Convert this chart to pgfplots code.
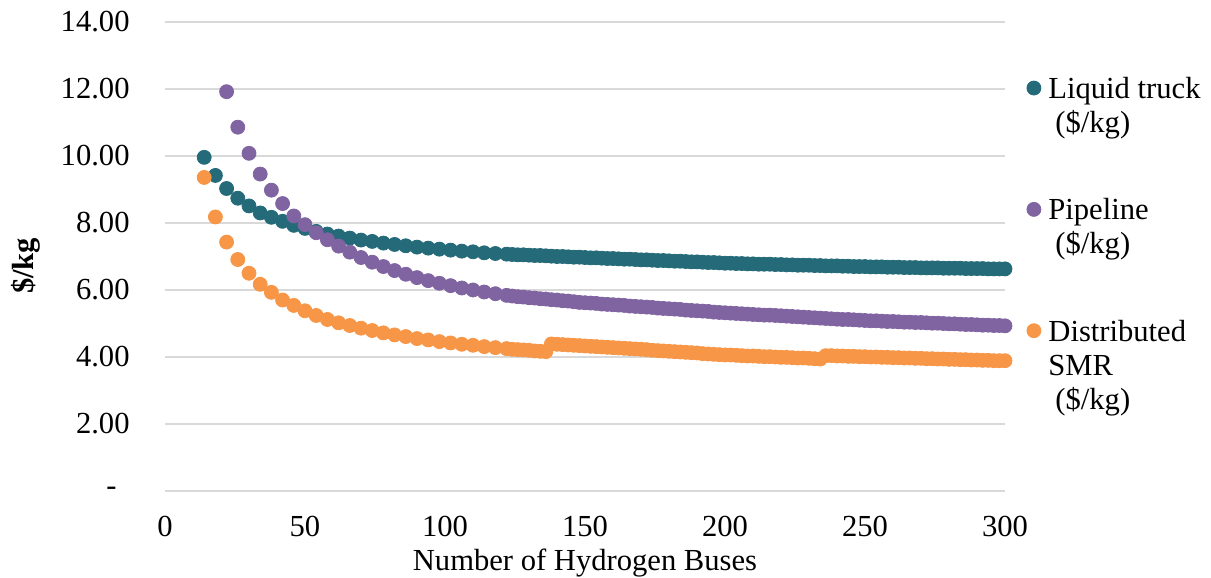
\documentclass[border=0pt]{standalone}
\usepackage{fontspec}
\setmainfont{Liberation Serif}
\usepackage{pgfplots}
\pgfplotsset{compat=1.18}
\definecolor{cTeal}{HTML}{246A79}
\definecolor{cPurple}{HTML}{8064A2}
\definecolor{cOrange}{HTML}{F79646}
\definecolor{cGrid}{HTML}{D9D9D9}
\newcommand{\lgd}[1]{\vtop{\baselineskip=17pt\lineskiplimit=-10pt #1}}
\begin{document}
\fontsize{15.3pt}{17pt}\selectfont
\begin{tikzpicture}[font=\fontsize{15.3pt}{17pt}\selectfont]
\begin{axis}[
 scale only axis, width=420pt, height=234.5pt,
 at={(0,0)}, anchor=south west,
 xmin=0,xmax=300,ymin=0,ymax=14,
 axis line style={draw=none},
 major tick length=0pt,
 /pgf/number format/assume math mode=true,
 xtick={0,50,...,300},
 xticklabels={0,50,100,150,200,250,300},
 ytick={0,2,...,14},
 yticklabels={-\hspace*{6.5pt},2.00,4.00,6.00,8.00,10.00,12.00,14.00},
 ymajorgrids, grid style={cGrid, line width=0.75pt},
 yticklabel style={anchor=east, inner sep=0pt, xshift=-17.5pt},
 xticklabel style={anchor=north, inner sep=0pt, yshift=-12.25pt},
 xlabel={Number of Hydrogen Buses},
 xlabel style={at={(axis description cs:0.5,0)}, anchor=base, inner sep=0pt, yshift=-39.5pt},
 ylabel={\textbf{\$/kg}},
 ylabel style={at={(axis description cs:-0.1476,0.48)}, anchor=south, inner sep=0pt},
 clip=false,
 legend style={at={(axis description cs:1.0256,0.8912)}, anchor=north west, draw=none, fill=none,
   cells={anchor=base west}, row sep=43.75pt, inner sep=0pt,
   /tikz/every odd column/.append style={column sep=1.75pt}},
 legend image code/.code={\draw[#1] plot coordinates {(3.5pt,5.3pt)};},
 every axis plot/.append style={only marks, mark=*, mark size=3.5pt},
]
\addplot[cTeal, mark options={fill=cTeal, draw=cTeal}] coordinates {
(14,9.96)(18,9.42)(22,9.03)(26,8.74)(30,8.51)(34,8.30)(38,8.17)(42,8.05)(46,7.93)(50,7.84)
(54,7.75)(58,7.67)(62,7.61)(66,7.55)(70,7.49)(74,7.45)(78,7.40)(82,7.36)(86,7.32)(90,7.28)
(94,7.25)(98,7.22)(102,7.19)(106,7.16)(110,7.14)(114,7.11)(118,7.09)(122,7.07)
(124,7.06)(126,7.05)(128,7.05)(130,7.04)(132,7.03)(134,7.03)(136,7.02)(138,7.01)(140,7.00)(142,7.00)
(144,6.99)(146,6.98)(148,6.98)(150,6.97)(152,6.96)(154,6.96)(156,6.95)(158,6.94)(160,6.94)(162,6.93)
(164,6.92)(166,6.92)(168,6.91)(170,6.90)(172,6.90)(174,6.89)(176,6.88)(178,6.88)(180,6.87)(182,6.86)
(184,6.86)(186,6.85)(188,6.84)(190,6.84)(192,6.83)(194,6.82)(196,6.82)(198,6.81)(200,6.80)(202,6.80)
(204,6.79)(206,6.79)(208,6.78)(210,6.78)(212,6.77)(214,6.77)(216,6.77)(218,6.76)(220,6.76)(222,6.75)
(224,6.75)(226,6.74)(228,6.74)(230,6.74)(232,6.73)(234,6.73)(236,6.72)(238,6.72)(240,6.72)(242,6.71)
(244,6.71)(246,6.70)(248,6.70)(250,6.70)(252,6.69)(254,6.69)(256,6.69)(258,6.68)(260,6.68)(262,6.68)
(264,6.67)(266,6.67)(268,6.67)(270,6.66)(272,6.66)(274,6.66)(276,6.66)(278,6.65)(280,6.65)(282,6.65)
(284,6.65)(286,6.64)(288,6.64)(290,6.64)(292,6.64)(294,6.63)(296,6.63)(298,6.63)(300,6.63)
};
\addlegendentry{\lgd{\hbox{Liquid truck}\hbox{\hspace*{3.5pt}(\$/kg)}}}
\addplot[cPurple, mark options={fill=cPurple, draw=cPurple}] coordinates {
(22,11.92)(26,10.86)(30,10.08)(34,9.46)(38,8.98)(42,8.58)(46,8.21)(50,7.95)(54,7.71)(58,7.50)
(62,7.31)(66,7.13)(70,6.97)(74,6.83)(78,6.70)(82,6.58)(86,6.47)(90,6.37)(94,6.28)(98,6.20)
(102,6.13)(106,6.06)(110,6.00)(114,5.94)(118,5.89)(122,5.84)
(124,5.82)(126,5.80)(128,5.79)(130,5.77)(132,5.76)(134,5.74)(136,5.73)(138,5.71)(140,5.70)(142,5.68)
(144,5.67)(146,5.65)(148,5.63)(150,5.62)(152,5.61)(154,5.60)(156,5.58)(158,5.57)(160,5.56)(162,5.55)
(164,5.54)(166,5.52)(168,5.51)(170,5.50)(172,5.49)(174,5.48)(176,5.46)(178,5.45)(180,5.44)(182,5.43)
(184,5.42)(186,5.40)(188,5.39)(190,5.38)(192,5.37)(194,5.36)(196,5.34)(198,5.33)(200,5.32)(202,5.31)
(204,5.30)(206,5.29)(208,5.28)(210,5.27)(212,5.26)(214,5.25)(216,5.25)(218,5.24)(220,5.23)(222,5.22)
(224,5.21)(226,5.20)(228,5.19)(230,5.18)(232,5.17)(234,5.16)(236,5.15)(238,5.14)(240,5.13)(242,5.12)
(244,5.12)(246,5.11)(248,5.10)(250,5.09)(252,5.08)(254,5.08)(256,5.07)(258,5.06)(260,5.06)(262,5.05)
(264,5.04)(266,5.04)(268,5.03)(270,5.03)(272,5.02)(274,5.01)(276,5.01)(278,5.00)(280,4.99)(282,4.99)
(284,4.98)(286,4.97)(288,4.97)(290,4.96)(292,4.95)(294,4.95)(296,4.94)(298,4.94)(300,4.93)
};
\addlegendentry{\lgd{\hbox{Pipeline}\hbox{\hspace*{3.5pt}(\$/kg)}}}
\addplot[cOrange, mark options={fill=cOrange, draw=cOrange}] coordinates {
(14,9.36)(18,8.18)(22,7.43)(26,6.91)(30,6.50)(34,6.17)(38,5.93)(42,5.70)(46,5.54)(50,5.38)
(54,5.24)(58,5.12)(62,5.02)(66,4.94)(70,4.86)(74,4.79)(78,4.72)(82,4.66)(86,4.61)(90,4.55)
(94,4.51)(98,4.46)(102,4.42)(106,4.38)(110,4.35)(114,4.31)(118,4.28)(122,4.25)
(124,4.23)(126,4.22)(128,4.21)(130,4.20)(132,4.18)(134,4.17)(136,4.16)(138,4.39)(140,4.38)(142,4.37)
(144,4.36)(146,4.35)(148,4.34)(150,4.33)(152,4.32)(154,4.31)(156,4.30)(158,4.29)(160,4.28)(162,4.27)
(164,4.26)(166,4.25)(168,4.24)(170,4.23)(172,4.22)(174,4.20)(176,4.19)(178,4.18)(180,4.17)(182,4.16)
(184,4.15)(186,4.14)(188,4.13)(190,4.12)(192,4.10)(194,4.09)(196,4.08)(198,4.07)(200,4.06)(202,4.06)
(204,4.05)(206,4.04)(208,4.03)(210,4.03)(212,4.02)(214,4.01)(216,4.01)(218,4.00)(220,3.99)(222,3.99)
(224,3.98)(226,3.97)(228,3.97)(230,3.96)(232,3.95)(234,3.94)(236,4.04)(238,4.04)(240,4.03)(242,4.03)
(244,4.02)(246,4.02)(248,4.01)(250,4.01)(252,4.00)(254,4.00)(256,3.99)(258,3.99)(260,3.98)(262,3.98)
(264,3.97)(266,3.97)(268,3.96)(270,3.96)(272,3.95)(274,3.95)(276,3.94)(278,3.94)(280,3.93)(282,3.93)
(284,3.92)(286,3.92)(288,3.91)(290,3.91)(292,3.90)(294,3.90)(296,3.89)(298,3.89)(300,3.89)
};
\addlegendentry{\lgd{\hbox{Distributed}\hbox{SMR}\hbox{\hspace*{3.5pt}(\$/kg)}}}
\end{axis}
\pgfresetboundingbox
\path[use as bounding box] (-82.5pt,-43.5pt) rectangle (523pt,245.5pt);
\end{tikzpicture}
\end{document}
